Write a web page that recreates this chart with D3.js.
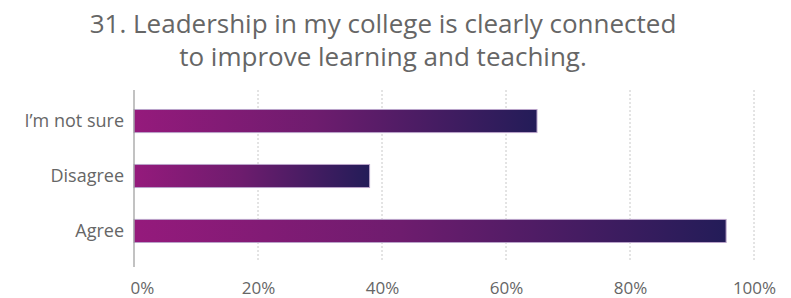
<!DOCTYPE html>
<html>
<head>
<meta charset="utf-8">
<script src="https://cdn.jsdelivr.net/npm/d3@7"></script>
<style>
  body { margin: 0; background: #fff; }
  text { font-family: "Open Sans", "Noto Sans", sans-serif; }
</style>
</head>
<body>
<div id="wrapper"></div>
<script>
  // 1. Data
  const titleLines = [
    "31. Leadership in my college is clearly connected",
    "to improve learning and teaching.",
  ]
  const categories = ["I\u2019m not sure", "Disagree", "Agree"]
  const values = [65, 38, 95.5]
  const tickValues = [0, 20, 40, 60, 80, 100]

  const dataset = categories.map((c, i) => ({ category: c, value: values[i] }))
  const xAccessor = d => d.value
  const yAccessor = d => d.category

  // 2. Dimensions
  let dimensions = {
    width: 791,
    height: 298,
    margin: { top: 93, right: 37, bottom: 35, left: 134 },
  }
  dimensions.boundedWidth = dimensions.width - dimensions.margin.left - dimensions.margin.right
  dimensions.boundedHeight = dimensions.height - dimensions.margin.top - dimensions.margin.bottom

  // 3. Canvas
  const wrapper = d3.select("#wrapper")
    .append("svg")
      .attr("width", dimensions.width)
      .attr("height", dimensions.height)

  const defs = wrapper.append("defs")
  const grad = defs.append("linearGradient")
      .attr("id", "barGradient")
      .attr("x1", "0%").attr("x2", "100%")
      .attr("y1", "0%").attr("y2", "0%")
  grad.append("stop").attr("offset", "0%").attr("stop-color", "#951a7c")
  grad.append("stop").attr("offset", "45%").attr("stop-color", "#6e1c6e")
  grad.append("stop").attr("offset", "100%").attr("stop-color", "#231c58")

  const bounds = wrapper.append("g")
    .attr("transform", `translate(${dimensions.margin.left}, ${dimensions.margin.top})`)

  // 4. Scales
  const xScale = d3.scaleLinear()
    .domain([0, 100])
    .range([0, dimensions.boundedWidth])

  const yScale = d3.scaleBand()
    .domain(categories)
    .range([0, 166])
    .paddingInner(0.58)
    .paddingOuter(0.3)

  // 6a. Gridlines (behind bars)
  bounds.append("g")
    .selectAll("line")
    .data(tickValues.slice(1))
    .join("line")
      .attr("x1", d => xScale(d))
      .attr("x2", d => xScale(d))
      .attr("y1", -3)
      .attr("y2", 169)
      .attr("stroke", "#c8c8c8")
      .attr("stroke-width", 1)
      .attr("stroke-dasharray", "2,2")

  // 5. Bars
  bounds.append("g")
    .selectAll("rect")
    .data(dataset)
    .join("rect")
      .attr("x", 0)
      .attr("y", d => yScale(yAccessor(d)))
      .attr("width", d => xScale(xAccessor(d)))
      .attr("height", yScale.bandwidth())
      .attr("fill", "url(#barGradient)")
      .attr("stroke", "#b9a3c9")
      .attr("stroke-width", 1)

  // 6b. Axes
  const yAxis = bounds.append("g")
    .call(d3.axisLeft(yScale).tickSize(0).tickPadding(10))
  yAxis.select(".domain").remove()
  yAxis.selectAll("text")
      .attr("font-size", 18)
      .attr("fill", "#666")
      .style("font-family", "'Open Sans', sans-serif")

  bounds.append("line")
      .attr("x1", 0).attr("x2", 0)
      .attr("y1", -3).attr("y2", 174)
      .attr("stroke", "#999")
      .attr("stroke-width", 1.2)

  const xAxis = bounds.append("g")
    .attr("transform", `translate(0, 174)`)
    .call(d3.axisBottom(xScale)
      .tickValues(tickValues)
      .tickSize(0)
      .tickPadding(0)
      .tickFormat(d => d + "%"))
  xAxis.select(".domain").remove()
  xAxis.selectAll("text")
      .attr("x", d => d === 0 ? 8 : 0)
      .attr("y", 15)
      .attr("dy", "0.71em")
      .attr("font-size", 17)
      .attr("fill", "#666")
      .style("font-family", "'Open Sans', sans-serif")

  // Title
  wrapper.append("g")
    .selectAll("text")
    .data(titleLines)
    .join("text")
      .attr("x", 383)
      .attr("y", (d, i) => 33 + i * 33)
      .attr("text-anchor", "middle")
      .attr("font-size", 26)
      .attr("fill", "#666")
      .style("font-family", "'Open Sans', sans-serif")
      .text(d => d)
</script>
</body>
</html>
